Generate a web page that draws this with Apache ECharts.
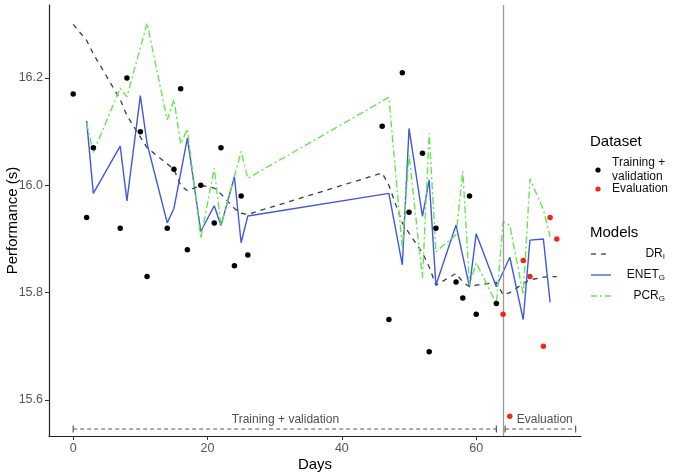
<!DOCTYPE html>
<html>
<head>
<meta charset="utf-8">
<script src="https://cdn.jsdelivr.net/npm/echarts@6/dist/echarts.min.js"></script>
<style>
  html, body { margin: 0; padding: 0; background: #fff; }
  #chart { width: 685px; height: 473px; }
</style>
</head>
<body>
<div id="chart"></div>
<script>
/* 数据：训练 + 验证 */
const trainDays = [0, 2, 3, 7, 8, 10, 11, 14, 15, 16, 17, 19, 21, 22, 24, 25, 26, 46, 47, 49, 50, 52, 53, 54, 57, 58, 59, 60, 63];
const trainPerf = [16.17, 15.94, 16.07, 15.92, 16.20, 16.10, 15.83, 15.92, 16.03, 16.18, 15.88, 16.00, 15.93, 16.07, 15.85, 15.98, 15.87, 16.11, 15.75, 16.21, 15.95, 16.06, 15.69, 15.92, 15.82, 15.79, 15.98, 15.76, 15.78];

// 评估
const evalDays = [64, 65, 67, 68, 70, 71, 72];
const evalPerf = [15.76, 15.57, 15.86, 15.83, 15.70, 15.94, 15.90];

// 模型曲线
const drDays = [0, 2, 3, 7, 8, 10, 11, 14, 15, 16, 17, 19, 21, 22, 24, 25, 26, 46, 47, 49, 50, 52, 53, 54, 57, 58, 59, 60, 63, 64, 65, 67, 68, 70, 71, 72];
const drPerf = [16.30, 16.27, 16.245, 16.16, 16.13, 16.09, 16.07, 16.04, 16.03, 16.00, 15.99, 16.00, 15.995, 15.984, 15.957, 15.948, 15.946, 16.023, 16.00, 15.93, 15.911, 15.874, 15.848, 15.814, 15.836, 15.82, 15.811, 15.814, 15.819, 15.796, 15.80, 15.817, 15.824, 15.829, 15.83, 15.83];

const enetDays = [2, 3, 7, 8, 10, 11, 14, 15, 17, 19, 21, 22, 24, 25, 26, 47, 49, 50, 52, 53, 54, 57, 59, 60, 63, 65, 67, 68, 70, 71];
const enetPerf = [16.12, 15.985, 16.073, 15.971, 16.167, 16.078, 15.93, 15.957, 16.088, 15.914, 15.962, 15.925, 16.016, 15.893, 15.943, 15.985, 15.852, 16.106, 15.942, 16.01, 15.814, 15.926, 15.811, 15.91, 15.811, 15.866, 15.75, 15.898, 15.90, 15.782];

const pcrDays = [2, 3, 7, 8, 11, 14, 15, 16, 17, 19, 21, 22, 25, 26, 47, 49, 50, 52, 53, 54, 57, 58, 59, 60, 63, 64, 65, 67, 68, 70, 71];
const pcrPerf = [16.116, 16.061, 16.181, 16.165, 16.302, 16.122, 16.16, 16.077, 16.105, 15.901, 16.032, 15.924, 16.063, 16.013, 16.164, 15.883, 16.057, 15.827, 16.097, 15.876, 15.908, 16.026, 15.814, 15.856, 15.78, 15.932, 15.926, 15.796, 16.012, 15.955, 15.904];

// 刻度
const xTicks = [0, 20, 40, 60];
const yTicks = [15.6, 15.8, 16.0, 16.2];
const splitDay = 64;

// 底部区间标注
const trainSpan = [0, 63];
const evalSpan = [64.3, 74.8];
const spanLevel = 15.546;
const spanTextLevel = 15.563;

const zip = (xs, ys) => xs.map((x, i) => [x, ys[i]]);

const font = 'Liberation Sans, Arial, sans-serif';
const cBlue = '#4257e0';
const cGreen = '#63e84c';
const cDr = '#3c3c3c';
const cRed = '#f0281a';

var chartDom = document.getElementById('chart');
var myChart = echarts.init(chartDom);

/* 图例（手绘） */
const legendX = 590;
const legendGraphics = [
    { type: 'text', left: legendX, top: 134, style: { text: 'Dataset', fontSize: 15, fill: '#000', fontFamily: font } },
    { type: 'circle', shape: { cx: 598, cy: 170, r: 2.6 }, style: { fill: '#000' } },
    { type: 'text', x: 612, y: 170, style: { text: 'Training +\nvalidation', fontSize: 12, lineHeight: 14, fill: '#111', fontFamily: font, verticalAlign: 'middle' } },
    { type: 'circle', shape: { cx: 598, cy: 189, r: 2.6 }, style: { fill: cRed } },
    { type: 'text', x: 612, y: 189, style: { text: 'Evaluation', fontSize: 12, fill: '#111', fontFamily: font, verticalAlign: 'middle' } },
    { type: 'text', left: legendX, top: 225, style: { text: 'Models', fontSize: 15, fill: '#000', fontFamily: font } },
    { type: 'line', shape: { x1: 591, y1: 254, x2: 611, y2: 254 }, style: { stroke: cDr, lineWidth: 1.3, lineDash: [5, 5] } },
    { type: 'line', shape: { x1: 591, y1: 275, x2: 611, y2: 275 }, style: { stroke: cBlue, lineWidth: 1.3 } },
    { type: 'line', shape: { x1: 591, y1: 296, x2: 611, y2: 296 }, style: { stroke: cGreen, lineWidth: 1.3, lineDash: [6, 3, 2, 3] } }
];
[['DR', 'I', 254], ['ENET', 'G', 275], ['PCR', 'G', 296]].forEach(([n, s, y]) => {
    legendGraphics.push({
        type: 'text', x: 665, y: y,
        style: {
            text: '{n|' + n + '}{s|' + s + '}',
            align: 'right', verticalAlign: 'middle',
            rich: {
                n: { fontSize: 12, fill: '#111', fontFamily: font },
                s: { fontSize: 8, fill: '#111', fontFamily: font, verticalAlign: 'bottom', padding: [6, 0, 0, 0] }
            }
        }
    });
});

var option = {
    backgroundColor: '#fff',
    animation: false,
    grid: { left: 49, right: 104, top: 5, bottom: 37, containLabel: false, outerBoundsMode: 'none' },
    xAxis: {
        type: 'value',
        min: -3.6,
        max: 75.6,
        name: 'Days',
        nameLocation: 'middle',
        nameGap: 21,
        nameMoveOverlap: false,
        nameTextStyle: { fontSize: 15, color: '#000', fontFamily: font },
        splitLine: { show: false },
        axisLine: { onZero: false, lineStyle: { color: '#222', width: 1.2 } },
        axisTick: { customValues: xTicks, length: 4, lineStyle: { color: '#333' } },
        axisLabel: { customValues: xTicks, color: '#555', fontSize: 12.5, fontFamily: font, margin: 6 }
    },
    yAxis: {
        type: 'value',
        min: 15.533,
        max: 16.336,
        name: 'Performance (s)',
        nameLocation: 'middle',
        nameGap: 29,
        nameMoveOverlap: false,
        nameTextStyle: { fontSize: 15, color: '#000', fontFamily: font },
        splitLine: { show: false },
        axisLine: { show: true, onZero: false, lineStyle: { color: '#222', width: 1.2 } },
        axisTick: { show: true, customValues: yTicks, length: 4, lineStyle: { color: '#333' } },
        axisLabel: { customValues: yTicks, color: '#555', fontSize: 12.5, fontFamily: font, margin: 6, formatter: v => v.toFixed(1) }
    },
    graphic: legendGraphics,
    series: [
        {
            type: 'line', name: 'DR', data: zip(drDays, drPerf),
            showSymbol: false, silent: true,
            lineStyle: { color: cDr, width: 1.3, type: [5, 5] },
            markLine: {
                silent: true, symbol: 'none', label: { show: false },
                lineStyle: { color: '#9a9a9a', width: 1.3, type: 'solid' },
                data: [{ xAxis: splitDay }]
            }
        },
        {
            type: 'line', name: 'ENET', data: zip(enetDays, enetPerf),
            showSymbol: false, silent: true,
            lineStyle: { color: cBlue, width: 1.4 }
        },
        {
            type: 'line', name: 'PCR', data: zip(pcrDays, pcrPerf),
            showSymbol: false, silent: true,
            lineStyle: { color: cGreen, width: 1.4, type: [7, 3, 2, 3] }
        },
        {
            type: 'scatter', name: 'Training + validation', data: zip(trainDays, trainPerf),
            symbolSize: 5.5, itemStyle: { color: '#000', opacity: 1 }, z: 5
        },
        {
            type: 'scatter', name: 'Evaluation', data: zip(evalDays, evalPerf),
            symbolSize: 5.5, itemStyle: { color: cRed, opacity: 1 }, z: 5
        },
        // 底部区间
        {
            type: 'line', data: trainSpan.map(d => [d, spanLevel]),
            symbol: 'rect', symbolSize: [1.2, 7], silent: true,
            itemStyle: { color: '#555' },
            lineStyle: { color: '#555', width: 1, type: [4, 3] }
        },
        {
            type: 'line', data: evalSpan.map(d => [d, spanLevel]),
            symbol: 'rect', symbolSize: [1.2, 7], silent: true,
            itemStyle: { color: '#555' },
            lineStyle: { color: '#555', width: 1, type: [4, 3] }
        },
        {
            type: 'scatter', symbolSize: 0, silent: true,
            data: [
                { value: [31.6, spanTextLevel], label: { formatter: 'Training + validation' } },
                { value: [70.2, spanTextLevel], label: { formatter: 'Evaluation' } }
            ],
            label: { show: true, position: 'inside', color: '#222', fontSize: 12, fontFamily: font }
        }
    ]
};

myChart.setOption(option);
</script>
</body>
</html>
